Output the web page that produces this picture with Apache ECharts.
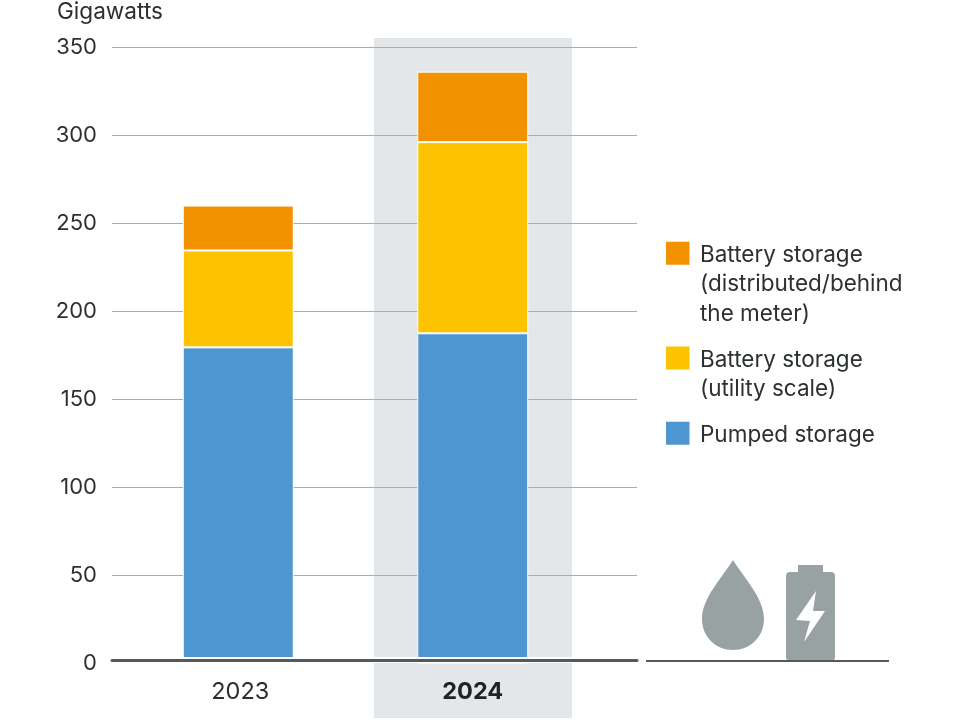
<!DOCTYPE html>
<html><head><meta charset="utf-8">
<style>html,body{margin:0;padding:0;background:#fff}#c{width:960px;height:720px}</style>
<script src="https://cdn.jsdelivr.net/npm/echarts@6/dist/echarts.min.js"></script>
</head><body><div id="c"></div>
<script>
const categories = ['2023', '2024'];
const pumped = [179.5, 187.5];
const utility = [55, 108.5];
const distributed = [25.5, 40];
const names = ['Battery storage\n(distributed/behind\nthe meter)', 'Battery storage\n(utility scale)', 'Pumped storage'];
const colors = ['#F39200', '#FDC300', '#4E96D1'];
const yTicks = {min: 0, max: 350, interval: 50};
const font = 'Inter';
const ink = '#2c3032';

echarts.graphic.registerShape('dropIcon', echarts.graphic.extendPath('M733 560C722 578 702 598 702 619C702 637 716 650 733 650C750 650 764 637 764 619C764 598 744 578 733 560Z', {}));
echarts.graphic.registerShape('batteryIcon', echarts.graphic.extendPath('M798 565H823V572H831Q835 572 835 576V657Q835 661 831 661H790Q786 661 786 657V576Q786 572 790 572H798Z', {}));

function legendAt(name, top, h) {
  return {
    show: true, orient: 'vertical', left: 666, top: top, padding: 0, selectedMode: false,
    itemWidth: 29, itemHeight: h,
    itemStyle: {borderWidth: 0},
    data: [{name: name, icon: 'path://M0 0L0 0ZM0 1.5H23.5V24.5H0ZM29 ' + h + 'L29 ' + h + 'Z'}],
    textStyle: {fontFamily: font, fontSize: 22.5, color: ink, lineHeight: 29.5}
  };
}
function bar(name, values, color) {
  return {
    type: 'bar', name: name, stack: 'all', xAxisIndex: 1, yAxisIndex: 1, barWidth: 111,
    data: values, itemStyle: {color: color, borderColor: '#fff', borderWidth: 1}, z: 2
  };
}
const chart = echarts.init(document.getElementById('c'), null, {renderer: 'canvas'});
chart.setOption({
  animation: false,
  backgroundColor: '#fff',
  grid: [
    {left: 112, width: 525, top: 47, height: 616.6},
    {left: 121, width: 469, top: 47, height: 616.6}
  ],
  legend: [legendAt(names[0], 240, 88), legendAt(names[1], 345, 59), legendAt(names[2], 420, 29)],
  xAxis: [
    {type: 'value', gridIndex: 0, min: 0, max: 1, position: 'bottom', offset: -3, z: 6,
     splitLine: {show: false}, axisTick: {show: false}, axisLabel: {show: false},
     axisLine: {show: true, onZero: false, lineStyle: {color: '#55595b', width: 3}}},
    {type: 'category', gridIndex: 1, data: categories, position: 'bottom', offset: -3.5, z: 5,
     axisTick: {show: false},
     axisLine: {show: true, onZero: false, lineStyle: {color: '#fff', width: 6}},
     axisLabel: {margin: 20, fontFamily: font, fontSize: 23.5, color: ink,
       formatter: v => v === '2024' ? '{b|' + v + '}' : '{a|' + v + '}',
       rich: {a: {fontFamily: font, fontSize: 23.5, color: ink, padding: [0, 0, 0, 4]},
              b: {fontFamily: font, fontSize: 23.5, fontWeight: 700, color: '#222'}}}}
  ],
  yAxis: [
    {type: 'value', gridIndex: 0, min: yTicks.min, max: yTicks.max, interval: yTicks.interval,
     name: 'Gigawatts', nameLocation: 'end', nameGap: 23,
     nameTextStyle: {fontFamily: font, fontSize: 22.6, color: ink, align: 'left', padding: [0, 0, 0, -55]},
     axisLine: {show: false}, axisTick: {show: false},
     axisLabel: {margin: 15, fontFamily: font, fontSize: 22, color: ink},
     splitLine: {show: true, showMinLine: false, lineStyle: {color: '#a8acad', width: 1}}},
    {type: 'value', gridIndex: 1, min: yTicks.min, max: yTicks.max, interval: yTicks.interval,
     show: false, splitLine: {show: false}}
  ],
  series: [bar(names[2], pumped, colors[2]), bar(names[1], utility, colors[1]), bar(names[0], distributed, colors[0])],
  graphic: [
    {type: 'rect', z: -1, silent: true, shape: {x: 374, y: 38, width: 198, height: 680}, style: {fill: '#E4E7EA'}},
    {type: 'rect', z: 10, silent: true, shape: {x: 646, y: 660, width: 243, height: 2}, style: {fill: '#55595b'}},
    {type: 'dropIcon', z: 9, silent: true, style: {fill: '#98A2A2'}},
    {type: 'batteryIcon', z: 9, silent: true, style: {fill: '#98A2A2'}},
    {type: 'polygon', z: 10, silent: true,
     shape: {points: [[816, 591], [796, 620], [810, 621], [804, 642], [825, 611], [813, 611]]},
     style: {fill: '#fff'}}
  ]
});
</script></body></html>
